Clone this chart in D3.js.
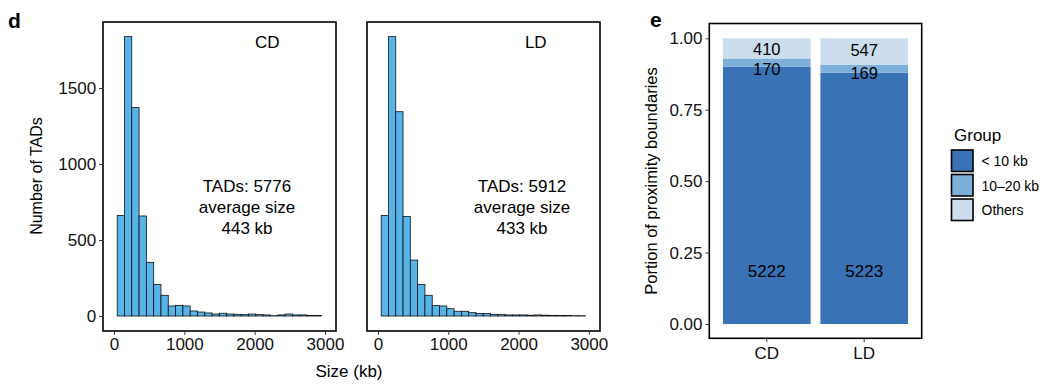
<!DOCTYPE html>
<html>
<head>
<meta charset="utf-8">
<script src="https://cdn.jsdelivr.net/npm/d3@7"></script>
<style>
  html, body { margin: 0; padding: 0; background: #fff; }
  svg { display: block; font-family: "Liberation Sans", Arial, Helvetica, sans-serif; }
</style>
</head>
<body>
<svg id="chart" width="1055" height="386"></svg>
<script>
// ---------------- DATA ----------------
// Histogram bins (kb): first bin start and bin width
const binStartKb = 45;
const binWidthKb = 103.8;
const cdCounts = [662, 1838, 1371, 658, 353, 208, 136, 66, 70, 66, 33, 26, 20, 13, 18, 13, 11, 9, 13, 9, 7, 2, 7, 13, 7, 7, 4, 4];
const ldCounts = [662, 1838, 1344, 654, 368, 208, 136, 68, 66, 48, 31, 31, 22, 17, 17, 11, 11, 7, 7, 7, 5, 7, 5, 4, 4, 3, 2, 2];
const histXTicks = [0, 1000, 2000, 3000];
const histYTicks = [0, 500, 1000, 1500];
const histPanels = ["CD", "LD"];
const histNotes = [
  ["TADs: 5776", "average size", "443 kb"],
  ["TADs: 5912", "average size", "433 kb"]
];

// Stacked bars
const barCategories = ["CD", "LD"];
const groups = ["< 10 kb", "10–20 kb", "Others"];
const lt10Counts = [5222, 5223];
const mid10to20Counts = [170, 169];
const othersCounts = [410, 547];
const barYTicks = [0, 0.25, 0.5, 0.75, 1];
// label vertical positions (in proportion units) per group, per category
const labelPosLt10 = [0.185, 0.185];
const labelPosMid = [0.894, 0.879];
const labelPosOthers = [0.961, 0.958];

// ---------------- STYLE ----------------
const histFill = "#56B4E9";
const groupColors = ["#3973B5", "#7DAFD9", "#CCDDED"];
const fontAxis = 17;

const svg = d3.select("#chart");
svg.append("rect").attr("width", 1055).attr("height", 386).attr("fill", "#fff");

// ---------------- HISTOGRAMS ----------------
const panelTop = 22, panelBottom = 331;
const histLayout = [
  { left: 103, right: 336, x0: 114, x3000: 325, counts: cdCounts, labelX: 2180, noteX: 1891 },
  { left: 367, right: 600, x0: 378, x3000: 588.8, counts: ldCounts, labelX: 2245, noteX: 2050 }
];
const yH = d3.scaleLinear().domain([0, 1500]).range([316, 88]);

histLayout.forEach((p, pi) => {
  const x = d3.scaleLinear().domain([0, 3000]).range([p.x0, p.x3000]);
  const g = svg.append("g");
  const bins = p.counts.map((c, i) => ({
    x0: binStartKb + i * binWidthKb,
    x1: binStartKb + (i + 1) * binWidthKb,
    count: c
  }));
  g.selectAll("rect.bar").data(bins).join("rect")
    .attr("class", "bar")
    .attr("x", d => x(d.x0))
    .attr("width", d => x(d.x1) - x(d.x0))
    .attr("y", d => yH(d.count))
    .attr("height", d => yH(0) - yH(d.count))
    .attr("fill", histFill)
    .attr("stroke", "#111")
    .attr("stroke-width", 0.8);

  // panel border
  g.append("rect")
    .attr("x", p.left).attr("y", panelTop)
    .attr("width", p.right - p.left).attr("height", panelBottom - panelTop)
    .attr("fill", "none").attr("stroke", "#000").attr("stroke-width", 1.6);

  // x axis
  const xAxis = d3.axisBottom(x).tickValues(histXTicks).tickSize(3).tickPadding(3).tickFormat(d3.format("d"));
  const xa = g.append("g").attr("transform", `translate(0,${panelBottom + 0.8})`).call(xAxis);
  xa.select(".domain").remove();
  xa.selectAll(".tick line").attr("stroke", "#333");
  xa.selectAll(".tick text").attr("font-size", fontAxis).attr("fill", "#111")
    .attr("font-family", "Liberation Sans, Arial, sans-serif");

  // y axis only on first panel
  if (pi === 0) {
    const yAxis = d3.axisLeft(yH).tickValues(histYTicks).tickSize(3).tickPadding(3).tickFormat(d3.format("d"));
    const ya = g.append("g").attr("transform", `translate(${p.left - 0.8},0)`).call(yAxis);
    ya.select(".domain").remove();
    ya.selectAll(".tick line").attr("stroke", "#333");
    ya.selectAll(".tick text").attr("font-size", fontAxis).attr("fill", "#111")
      .attr("font-family", "Liberation Sans, Arial, sans-serif");
  }

  // panel label
  g.append("text").attr("x", x(p.labelX)).attr("y", yH(1761))
    .attr("text-anchor", "middle").attr("font-size", 17).attr("fill", "#000")
    .text(histPanels[pi]);

  // notes
  const noteY = [816, 678, 539];
  histNotes[pi].forEach((t, li) => {
    g.append("text").attr("x", x(p.noteX)).attr("y", yH(noteY[li]))
      .attr("text-anchor", "middle").attr("font-size", 17).attr("fill", "#000")
      .text(t);
  });
});

// axis titles for d
svg.append("text").attr("x", 349).attr("y", 377).attr("text-anchor", "middle")
  .attr("font-size", 17).attr("fill", "#000").text("Size (kb)");
svg.append("text").attr("transform", "translate(42,176) rotate(-90)").attr("text-anchor", "middle")
  .attr("font-size", 16).attr("fill", "#000").text("Number of TADs");
svg.append("text").attr("x", 8).attr("y", 28).attr("font-size", 21).attr("font-weight", "bold")
  .attr("fill", "#000").text("d");

// ---------------- STACKED BARS ----------------
const bp = { left: 709.3, right: 921.7, top: 23.5, bottom: 338.3 };
const xB = d3.scaleBand().domain(barCategories).range([bp.left, bp.right]).paddingInner(0.1).paddingOuter(0.14);
const yB = d3.scaleLinear().domain([0, 1]).range([324, 38.3]);

const table = barCategories.map((c, i) => ({
  cat: c,
  [groups[0]]: lt10Counts[i],
  [groups[1]]: mid10to20Counts[i],
  [groups[2]]: othersCounts[i]
}));
const series = d3.stack().keys(groups).offset(d3.stackOffsetExpand)(table);
const color = d3.scaleOrdinal().domain(groups).range(groupColors);

const gb = svg.append("g");
series.forEach(s => {
  gb.selectAll(null).data(s).join("rect")
    .attr("x", d => xB(d.data.cat))
    .attr("width", xB.bandwidth())
    .attr("y", d => yB(d[1]))
    .attr("height", d => yB(d[0]) - yB(d[1]))
    .attr("fill", color(s.key));
});

// labels
const labelSets = [
  { vals: lt10Counts, pos: labelPosLt10, size: 17 },
  { vals: mid10to20Counts, pos: labelPosMid, size: 16.5 },
  { vals: othersCounts, pos: labelPosOthers, size: 16.5 }
];
labelSets.forEach(ls => {
  barCategories.forEach((c, i) => {
    gb.append("text")
      .attr("x", xB(c) + xB.bandwidth() / 2)
      .attr("y", yB(ls.pos[i]))
      .attr("dy", "0.36em")
      .attr("text-anchor", "middle").attr("font-size", ls.size).attr("fill", "#000")
      .text(ls.vals[i]);
  });
});

gb.append("rect").attr("x", bp.left).attr("y", bp.top)
  .attr("width", bp.right - bp.left).attr("height", bp.bottom - bp.top)
  .attr("fill", "none").attr("stroke", "#000").attr("stroke-width", 1.6);

const yAxB = d3.axisLeft(yB).tickValues(barYTicks).tickSize(3).tickPadding(3).tickFormat(d3.format(".2f"));
const yab = gb.append("g").attr("transform", `translate(${bp.left - 0.8},0)`).call(yAxB);
yab.select(".domain").remove();
yab.selectAll(".tick line").attr("stroke", "#333");
yab.selectAll(".tick text").attr("font-size", fontAxis).attr("fill", "#111")
  .attr("font-family", "Liberation Sans, Arial, sans-serif");

const xAxB = d3.axisBottom(xB).tickSize(3).tickPadding(5);
const xab = gb.append("g").attr("transform", `translate(0,${bp.bottom + 0.8})`).call(xAxB);
xab.select(".domain").remove();
xab.selectAll(".tick line").attr("stroke", "#333");
xab.selectAll(".tick text").attr("font-size", fontAxis).attr("fill", "#111")
  .attr("font-family", "Liberation Sans, Arial, sans-serif");

svg.append("text").attr("transform", "translate(657,181) rotate(-90)").attr("text-anchor", "middle")
  .attr("font-size", 16.5).attr("fill", "#000").text("Portion of proximity boundaries");
svg.append("text").attr("x", 650).attr("y", 27).attr("font-size", 21).attr("font-weight", "bold")
  .attr("fill", "#000").text("e");

// ---------------- LEGEND ----------------
const lg = svg.append("g");
lg.append("text").attr("x", 954).attr("y", 141).attr("font-size", 17).attr("fill", "#000").text("Group");
const legY = [150, 174.5, 199];
groups.forEach((gname, i) => {
  lg.append("rect").attr("x", 951.5).attr("y", legY[i]).attr("width", 21.5).attr("height", 21.5)
    .attr("fill", color(gname)).attr("stroke", "#000").attr("stroke-width", 1.6);
  lg.append("text").attr("x", 981.5).attr("y", legY[i] + 11).attr("dy", "0.36em")
    .attr("font-size", 14).attr("fill", "#000").text(gname);
});
</script>
</body>
</html>
